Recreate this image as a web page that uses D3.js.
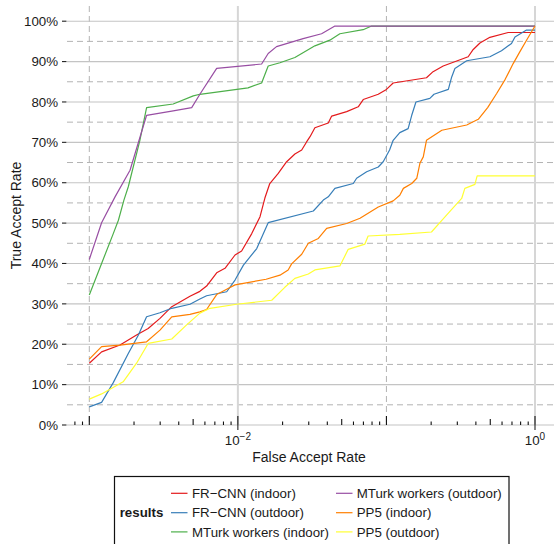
<!DOCTYPE html>
<html>
<head>
<meta charset="utf-8">
<script src="https://cdn.jsdelivr.net/npm/d3@7"></script>
<style>
  body { margin: 0; background: #fff; }
  text { font-family: "Liberation Sans", Arial, Helvetica, sans-serif; fill: #1a1a1a; }
</style>
</head>
<body>
<div id="chart"></div>
<script>

// legend order (also drawing order)
const seriesNames = ["FR\u2212CNN (indoor)", "FR\u2212CNN (outdoor)", "MTurk workers (indoor)",
                     "MTurk workers (outdoor)", "PP5 (indoor)", "PP5 (outdoor)"];
const seriesColors = ["#E41A1C", "#377EB8", "#4DAF4A", "#984EA3", "#FF7F00", "#FFFF33"];

// [false accept rate, true accept rate %]
const frcnnIndoor = [[1e-3,15.3],[1.21e-3,18.1],[1.61e-3,19.8],[2.08e-3,22.3],[2.49e-3,23.9],[2.99e-3,26.4],
  [3.59e-3,29.3],[4.76e-3,31.9],[5.55e-3,33.1],[6.16e-3,34.4],[7.2e-3,37.7],[8.19e-3,38.8],[9.57e-3,42.1],
  [1.06e-2,43.1],[1.24e-2,47.4],[1.41e-2,51.6],[1.52e-2,56.2],[1.64e-2,59.8],[1.87e-2,62.3],[2.13e-2,65.2],
  [2.42e-2,67.1],[2.69e-2,68.1],[2.9e-2,70.1],[3.06e-2,71.4],[3.3e-2,73.6],[4.06e-2,74.8],[4.28e-2,76.5],
  [5.4e-2,77.6],[6.46e-2,78.8],[6.98e-2,80.6],[8.81e-2,81.9],[0.1,83.1],[0.111,84.7],[0.186,86.0],
  [0.206,87.5],[0.241,88.9],[0.355,91.2],[0.384,93.0],[0.426,94.6],[0.497,96.0],[0.66,97.2],[1,97.2]];

const frcnnOutdoor = [[1e-3,4.5],[1.21e-3,5.6],[1.45e-3,10.5],[1.83e-3,17.7],[2.14e-3,22.3],[2.43e-3,26.8],
  [2.99e-3,27.8],[3.59e-3,28.9],[4.76e-3,29.9],[5.55e-3,31.2],[6.16e-3,32.0],[8.41e-3,33.0],[9.57e-3,35.9],
  [1.09e-2,39.6],[1.34e-2,43.7],[1.6e-2,50.1],[3.22e-2,53.0],[3.76e-2,55.7],[4.06e-2,56.5],[4.5e-2,58.6],
  [5.98e-2,59.8],[6.3e-2,61.1],[7.36e-2,62.7],[8.81e-2,63.9],[9.51e-2,65.2],[0.105,68.1],[0.111,70.5],
  [0.123,72.4],[0.140,73.4],[0.148,76.7],[0.158,80.0],[0.196,80.9],[0.209,81.9],[0.261,83.1],[0.275,86.2],
  [0.289,88.3],[0.347,90.2],[0.497,91.2],[0.595,92.7],[0.695,94.5],[0.733,96.1],[0.877,97.8],[1,97.8]];

const mturkIndoor = [[1e-3,32.2],[1.21e-3,40.0],[1.45e-3,47.4],[1.57e-3,50.7],[1.71e-3,55.7],[1.83e-3,59.0],
  [2.19e-3,70.5],[2.43e-3,78.6],[3.67e-3,79.5],[5.01e-3,81.5],[5.55e-3,81.9],[1.17e-2,83.5],[1.445e-2,84.7],
  [1.6e-2,88.9],[1.92e-2,89.7],[2.42e-2,91.0],[3.3e-2,93.9],[4.16e-2,95.3],[4.86e-2,96.9],[6.97e-2,97.9],
  [7.94e-2,98.8],[1,98.8]];

const mturkOutdoor = [[1e-3,41.0],[1.21e-3,50.1],[1.49e-3,56.5],[1.88e-3,63.1],[2.43e-3,76.7],[3.67e-3,77.8],
  [4.89e-3,78.6],[5.55e-3,81.9],[7.2e-3,88.3],[1.445e-2,89.4],[1.6e-2,92.0],[1.82e-2,93.7],[2.75e-2,95.7],
  [3.66e-2,96.9],[4.5e-2,98.8],[1,98.8]];

const pp5Indoor = [[1e-3,16.3],[1.21e-3,19.4],[1.61e-3,19.8],[2.43e-3,20.6],[2.99e-3,23.5],[3.59e-3,26.8],
  [4.76e-3,27.4],[5.55e-3,28.0],[6.16e-3,28.6],[7.2e-3,32.3],[8.41e-3,33.6],[9.57e-3,34.7],[1.55e-2,36.1],
  [1.92e-2,37.1],[2.18e-2,38.4],[2.30e-2,39.9],[2.69e-2,42.3],[2.98e-2,45.0],[3.48e-2,46.2],[3.96e-2,48.7],
  [5.4e-2,49.9],[6.64e-2,51.2],[8.81e-2,54.0],[0.111,55.5],[0.123,56.9],[0.130,58.6],[0.148,59.8],
  [0.160,61.1],[0.168,64.8],[0.177,66.4],[0.186,70.5],[0.236,73.0],[0.347,74.3],[0.415,75.7],[0.48,78.6],
  [0.552,82.1],[0.63,85.6],[0.713,89.5],[0.79,92.4],[0.877,95.3],[1,98.8]];

const pp5Outdoor = [[1e-3,6.4],[1.21e-3,7.7],[1.69e-3,10.7],[2.08e-3,15.3],[2.49e-3,20.2],[3.59e-3,21.3],
  [4.52e-3,24.8],[5.55e-3,27.7],[6.49e-3,28.9],[9.81e-3,29.9],[1.69e-2,30.9],[2.07e-2,34.1],[2.42e-2,36.3],
  [2.98e-2,37.4],[3.3e-2,38.4],[4.86e-2,39.4],[5.53e-2,43.5],[7.16e-2,44.8],[7.53e-2,46.8],[0.123,47.2],
  [0.201,47.8],[0.236,50.7],[0.275,53.4],[0.321,56.1],[0.337,58.6],[0.394,59.6],[0.408,61.7],[1,61.7]];

const seriesData = [frcnnIndoor, frcnnOutdoor, mturkIndoor, mturkOutdoor, pp5Indoor, pp5Outdoor];

// axis ticks
const yMajor = [0, 10, 20, 30, 40, 50, 60, 70, 80, 90, 100];
const yMinor = [5, 15, 25, 35, 45, 55, 65, 75, 85, 95];
const xMajorExp = [-2, 0];
const xMinorExp = [-3, -1];

// panel size
const width = 554, height = 544;
const panel = {left: 67, right: 557, top: 6, bottom: 425};

let svg = d3.select("#chart")
    .append("svg")
    .attr("width", width)
    .attr("height", height);

// scales
var xScale = d3.scaleLog()
    .domain([1e-3, 1])
    .range([89.3, 535]);

var yScale = d3.scaleLinear()
    .domain([0, 100])
    .range([panel.bottom, 21.2]);

// grid: minor dashed first
let grid = svg.append("g");
grid.selectAll(".ymin").data(yMinor).enter().append("line")
    .attr("x1", panel.left).attr("x2", panel.right)
    .attr("y1", d => yScale(d)).attr("y2", d => yScale(d))
    .attr("stroke", "#b3b3b3").attr("stroke-width", 1)
    .attr("stroke-dasharray", "6,4");
grid.selectAll(".xmin").data(xMinorExp).enter().append("line")
    .attr("x1", d => xScale(Math.pow(10, d))).attr("x2", d => xScale(Math.pow(10, d)))
    .attr("y1", panel.top).attr("y2", panel.bottom)
    .attr("stroke", "#b3b3b3").attr("stroke-width", 1)
    .attr("stroke-dasharray", "6,4");

// grid: major solid
grid.selectAll(".ymaj").data(yMajor).enter().append("line")
    .attr("x1", panel.left).attr("x2", panel.right)
    .attr("y1", d => yScale(d)).attr("y2", d => yScale(d))
    .attr("stroke", "#c4c4c4").attr("stroke-width", 1.1);
grid.selectAll(".xmaj").data(xMajorExp).enter().append("line")
    .attr("x1", d => xScale(Math.pow(10, d))).attr("x2", d => xScale(Math.pow(10, d)))
    .attr("y1", panel.top).attr("y2", panel.bottom)
    .attr("stroke", "#d6d6d6").attr("stroke-width", 2);

// line generator
let line = d3.line()
    .x(d => xScale(d[0]))
    .y(d => yScale(d[1]));

svg.append("g").selectAll("path")
    .data(seriesData)
    .enter().append("path")
    .attr("d", line)
    .attr("fill", "none")
    .attr("stroke", (d, i) => seriesColors[i])
    .attr("stroke-width", 1.2)
    .attr("stroke-linejoin", "round");

// log ticks along the bottom (short / mid / long)
let logTicks = [];
for (let e = -4; e <= 0; e++) {
    for (let m = 1; m <= 9; m++) {
        let v = m * Math.pow(10, e);
        let px = xScale(v);
        if (px < panel.left || px > panel.right) continue;
        logTicks.push({v: v, len: m == 1 ? 9 : (m == 5 ? 6 : 3.5)});
    }
}
svg.append("g").selectAll("line")
    .data(logTicks)
    .enter().append("line")
    .attr("x1", d => xScale(d.v)).attr("x2", d => xScale(d.v))
    .attr("y1", panel.bottom - 0).attr("y2", d => panel.bottom - d.len)
    .attr("stroke", "#111").attr("stroke-width", 1.1);

// x axis: ticks and labels at labelled majors
let xAxis = svg.append("g");
xAxis.selectAll("line").data(xMajorExp).enter().append("line")
    .attr("x1", d => xScale(Math.pow(10, d))).attr("x2", d => xScale(Math.pow(10, d)))
    .attr("y1", panel.bottom).attr("y2", panel.bottom + 5)
    .attr("stroke", "#222").attr("stroke-width", 1.1);
let xLab = xAxis.selectAll("text").data(xMajorExp).enter().append("text")
    .attr("x", d => xScale(Math.pow(10, d)))
    .attr("y", 445)
    .attr("text-anchor", "middle")
    .style("font-size", "13.3px");
xLab.append("tspan").text("10");
xLab.append("tspan").attr("dy", -5.5).style("font-size", "10px")
    .text(d => String(d).replace("-", "\u2212"));

// y axis ticks and labels
let yAxis = svg.append("g");
yAxis.selectAll("line").data(yMajor).enter().append("line")
    .attr("x1", 62).attr("x2", 66.5)
    .attr("y1", d => yScale(d)).attr("y2", d => yScale(d))
    .attr("stroke", "#222").attr("stroke-width", 1.1);
yAxis.selectAll("text").data(yMajor).enter().append("text")
    .attr("x", 58)
    .attr("y", d => yScale(d))
    .attr("dy", "0.35em")
    .attr("text-anchor", "end")
    .style("font-size", "13.3px")
    .text(d => d + "%");

// axis titles
svg.append("text")
    .attr("x", (panel.left + panel.right) / 2 - 3)
    .attr("y", 462)
    .attr("text-anchor", "middle")
    .style("font-size", "14px")
    .text("False Accept Rate");
svg.append("text")
    .attr("transform", "translate(21," + (panel.top + panel.bottom) / 2 + ") rotate(-90)")
    .attr("text-anchor", "middle")
    .style("font-size", "14px")
    .text("True Accept Rate");

// legend
let legend = svg.append("g");
legend.append("rect")
    .attr("x", 114.5).attr("y", 476.5)
    .attr("width", 394.5).attr("height", 72)
    .attr("fill", "#fff").attr("stroke", "#111").attr("stroke-width", 1.2);
legend.append("text")
    .attr("x", 119.7).attr("y", 512.7).attr("dy", "0.35em")
    .style("font-size", "13.3px").style("font-weight", "bold")
    .text("results");

const rowY = [493.3, 512.7, 531.9];
const colKeyX = [171, 336];
const colTextX = [192, 356.7];
let items = legend.selectAll(".item")
    .data(seriesNames)
    .enter().append("g");
items.append("line")
    .attr("x1", (d, i) => colKeyX[Math.floor(i / 3)])
    .attr("x2", (d, i) => colKeyX[Math.floor(i / 3)] + 16.5)
    .attr("y1", (d, i) => rowY[i % 3]).attr("y2", (d, i) => rowY[i % 3])
    .attr("stroke", (d, i) => seriesColors[i]).attr("stroke-width", 1.2);
items.append("text")
    .attr("x", (d, i) => colTextX[Math.floor(i / 3)])
    .attr("y", (d, i) => rowY[i % 3]).attr("dy", "0.35em")
    .style("font-size", "13.3px")
    .text(d => d);

</script>
</body>
</html>
